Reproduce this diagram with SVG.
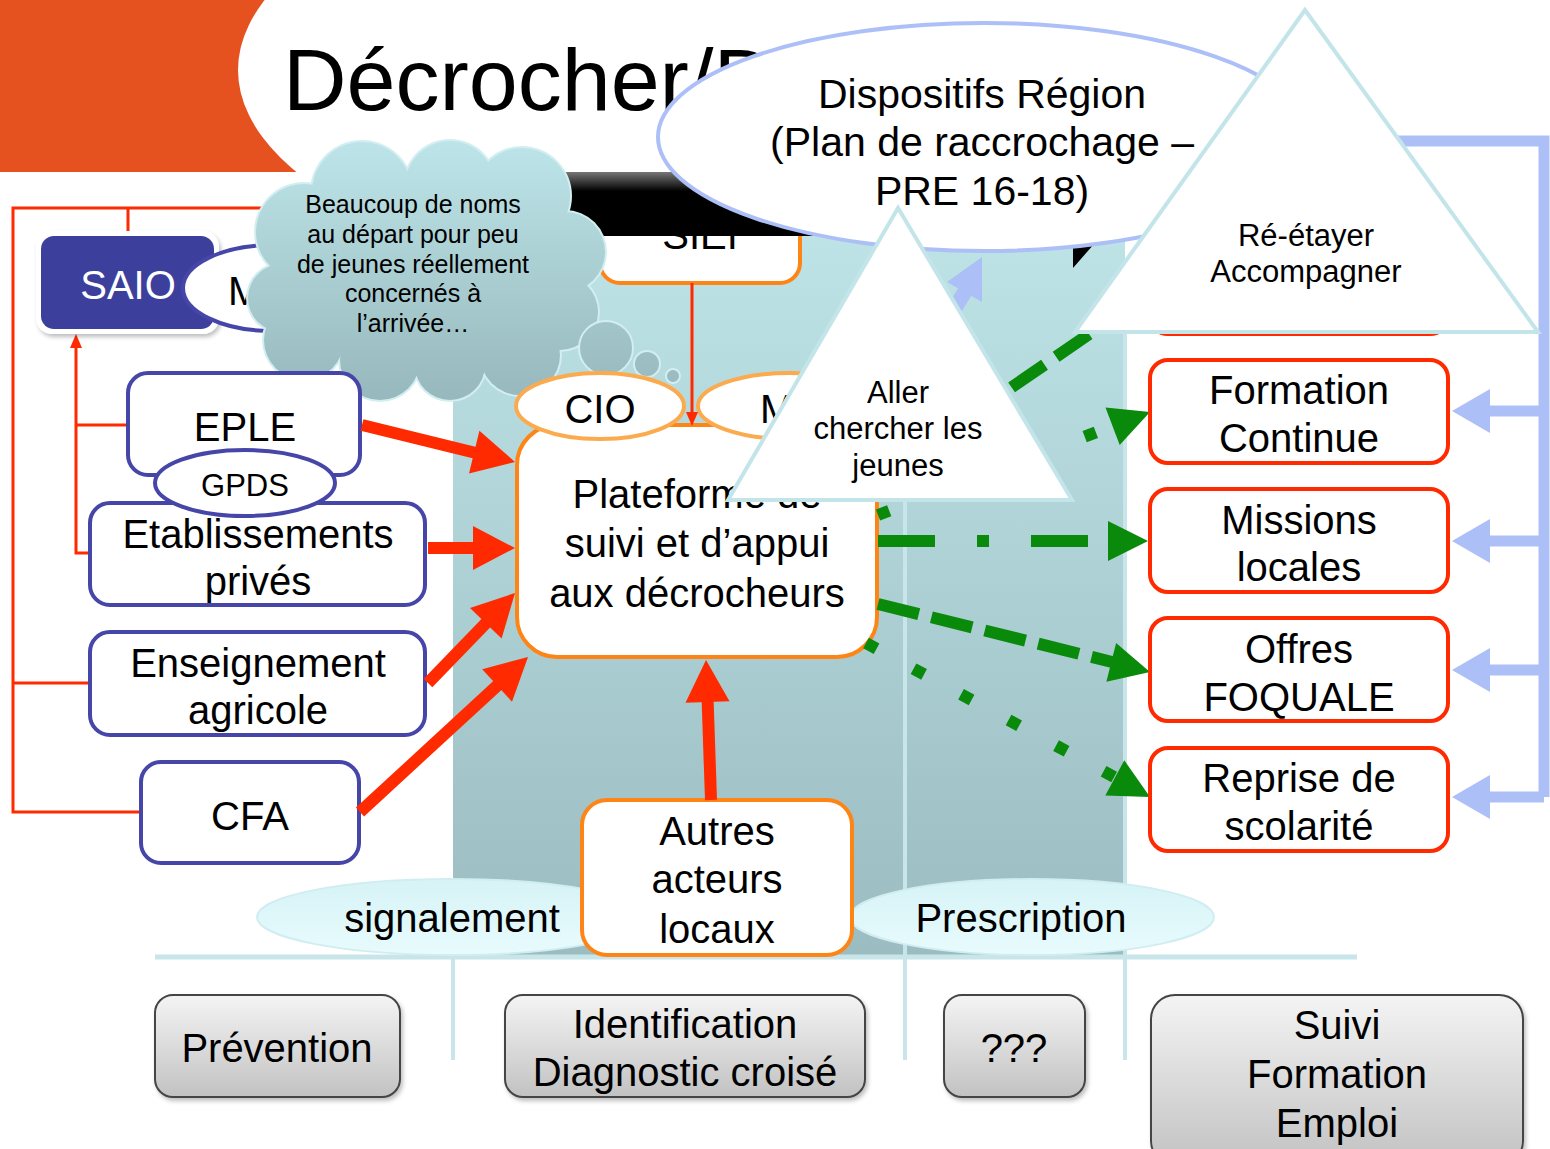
<svg xmlns="http://www.w3.org/2000/svg" width="1550" height="1149" viewBox="0 0 1550 1149">
<defs>
<style>
text{font-family:"Liberation Sans",Arial,sans-serif;fill:#000;text-anchor:middle}
.t40{font-size:40px}
.blue{fill:#fff;stroke:#4646a8;stroke-width:4}
.red{fill:#fff;stroke:#ff2a00;stroke-width:4}
.org{fill:#fff;stroke:#ff8416;stroke-width:4}
.grey{fill:url(#gGrey);stroke:#444;stroke-width:2}
.tri{fill:#fff;stroke:#c3e5ea;stroke-width:4}
.thin{fill:none;stroke:#ff2a00;stroke-width:3}
.rthick{fill:none;stroke:#ff2a00;stroke-width:12}
.rhead{fill:#ff2a00}
.grn{fill:none;stroke:#0a8a0a;stroke-width:12}
.ghead{fill:#0a8a0a}
.bl{fill:none;stroke:#adbff7;stroke-width:11}
.bhead{fill:#adbff7}
.sep{stroke:#c8e6ea;stroke-width:4;fill:none}
</style>
<linearGradient id="gPanel" x1="0" y1="200" x2="0" y2="957" gradientUnits="userSpaceOnUse">
<stop offset="0" stop-color="#bfe5e9"/><stop offset="1" stop-color="#9bbcc0"/></linearGradient>
<linearGradient id="gCloud" x1="0" y1="140" x2="0" y2="400" gradientUnits="userSpaceOnUse">
<stop offset="0" stop-color="#bde5e9"/><stop offset="1" stop-color="#97b8bc"/></linearGradient>
<linearGradient id="gGrey" x1="0" y1="0" x2="0" y2="1">
<stop offset="0" stop-color="#f4f4f4"/><stop offset="1" stop-color="#c2c2c2"/></linearGradient>
<linearGradient id="gBand" x1="0" y1="0" x2="0" y2="1">
<stop offset="0" stop-color="#777"/><stop offset="0.3" stop-color="#000"/><stop offset="1" stop-color="#000"/></linearGradient>
<linearGradient id="gEll" x1="0" y1="0" x2="0" y2="1">
<stop offset="0" stop-color="#d6f3f6"/><stop offset="1" stop-color="#e8fbfd"/></linearGradient>
<filter id="sh" x="-10%" y="-10%" width="130%" height="130%"><feDropShadow dx="2" dy="3" stdDeviation="2" flood-color="#000" flood-opacity="0.25"/></filter>
</defs>
<rect x="0" y="0" width="1550" height="1149" fill="#fff"/>

<g id="title">
<rect x="0" y="0" width="340" height="172" fill="#e5511f"/>
<ellipse cx="800" cy="70" rx="562" ry="230" fill="#fff"/>
<text x="283" y="110" style="font-size:88px;text-anchor:start">Décrocher/D</text>
</g>

<g id="panel">
<rect x="453" y="200" width="672" height="757" fill="url(#gPanel)"/>
<line class="sep" x1="905" y1="250" x2="905" y2="1060"/>
<line class="sep" x1="453" y1="957" x2="453" y2="1060"/>
<line class="sep" x1="1125" y1="330" x2="1125" y2="1060"/>
<line class="sep" x1="155" y1="957" x2="1357" y2="957" style="stroke-width:5"/>
</g>

<g id="connectors-left">
<path class="thin" d="M300,208 H13 V812 H141"/>
<path class="thin" d="M128,208 V235"/>
<path class="thin" d="M13,683 H90"/>
<path class="thin" d="M90,553 H76 V345"/>
<path class="thin" d="M76,425 H128"/>
<polygon class="rhead" points="76,334 70,348 82,348"/>
</g>

<g id="saio">
<rect x="36" y="231" width="183" height="103" rx="16" fill="#fff" filter="url(#sh)"/>
<rect x="41" y="236" width="173" height="93" rx="13" fill="#3d3f9d"/>
<text x="128" y="299" class="t40" style="fill:#fff">SAIO</text>
</g>
<g id="m1">
<ellipse cx="272" cy="288" rx="89" ry="43" class="blue"/>
<text x="228" y="305" class="t40" style="text-anchor:start">M</text>
</g>

<g id="siei">
<rect x="600" y="178" width="200" height="105" rx="20" class="org"/>
<text x="700" y="249" class="t40">SIEI</text>
</g>
<g id="band">
<rect x="560" y="172" width="540" height="64" fill="url(#gBand)"/>
<polygon points="1073,246 1094,244 1073,268" fill="#000"/>
</g>

<g id="cloud">
<g fill="#d2eef1">
<ellipse cx="425" cy="270" rx="152" ry="97"/>
<circle cx="304" cy="232" r="50"/><circle cx="282" cy="298" r="36"/><circle cx="304" cy="340" r="42"/>
<circle cx="362" cy="192" r="52"/><circle cx="450" cy="186" r="47"/><circle cx="522" cy="196" r="50"/>
<circle cx="565" cy="252" r="42"/><circle cx="560" cy="312" r="40"/><circle cx="520" cy="355" r="42"/>
<circle cx="450" cy="365" r="37"/><circle cx="380" cy="360" r="42"/>
</g>
<g fill="url(#gCloud)">
<ellipse cx="425" cy="270" rx="150" ry="95"/>
<circle cx="304" cy="232" r="48"/><circle cx="282" cy="298" r="34"/><circle cx="304" cy="340" r="40"/>
<circle cx="362" cy="192" r="50"/><circle cx="450" cy="186" r="45"/><circle cx="522" cy="196" r="48"/>
<circle cx="565" cy="252" r="40"/><circle cx="560" cy="312" r="38"/><circle cx="520" cy="355" r="40"/>
<circle cx="450" cy="365" r="35"/><circle cx="380" cy="360" r="40"/>
</g>
<circle cx="606" cy="348" r="27" fill="url(#gCloud)" stroke="#d2eef1" stroke-width="2"/>
<circle cx="647" cy="364" r="13" fill="url(#gCloud)" stroke="#d2eef1" stroke-width="2"/>
<circle cx="673" cy="376" r="7" fill="url(#gCloud)" stroke="#d2eef1" stroke-width="2"/>
<g style="font-size:25px">
<text x="413" y="213">Beaucoup de noms</text>
<text x="413" y="243">au départ pour peu</text>
<text x="413" y="273">de jeunes réellement</text>
<text x="413" y="302">concernés à</text>
<text x="413" y="332">l’arrivée…</text>
</g>
</g>

<g id="eple">
<rect x="128" y="373" width="232" height="102" rx="20" class="blue"/>
<text x="245" y="441" class="t40">EPLE</text>
</g>
<g id="etab">
<rect x="90" y="503" width="335" height="102" rx="20" class="blue"/>
<text x="258" y="548" class="t40">Etablissements</text>
<text x="258" y="595" class="t40">privés</text>
</g>
<g id="gpds">
<ellipse cx="245" cy="483" rx="90" ry="33" class="blue"/>
<text x="245" y="496" style="font-size:31px">GPDS</text>
</g>
<g id="agri">
<rect x="90" y="632" width="335" height="103" rx="20" class="blue"/>
<text x="258" y="677" class="t40">Enseignement</text>
<text x="258" y="724" class="t40">agricole</text>
</g>
<g id="cfa">
<rect x="141" y="762" width="218" height="101" rx="20" class="blue"/>
<text x="250" y="830" class="t40">CFA</text>
</g>

<g id="plateforme">
<rect x="517" y="425" width="360" height="232" rx="40" class="org"/>
<text x="697" y="508" class="t40">Plateforme de</text>
<text x="697" y="557" class="t40">suivi et d’appui</text>
<text x="697" y="607" class="t40">aux décrocheurs</text>
</g>
<g id="cio">
<ellipse cx="600" cy="406" rx="84" ry="33" fill="#fff" stroke="#fbab4d" stroke-width="4"/>
<text x="600" y="423" class="t40">CIO</text>
</g>
<g id="m2">
<ellipse cx="790" cy="406" rx="92" ry="33" fill="#fff" stroke="#fbab4d" stroke-width="4"/>
<text x="760" y="423" class="t40" style="text-anchor:start">M</text>
</g>

<g id="signalement">
<ellipse cx="452" cy="917" rx="195" ry="38" fill="url(#gEll)" stroke="#d0edf1" stroke-width="2"/>
<text x="452" y="932" class="t40">signalement</text>
</g>
<g id="prescription">
<ellipse cx="1032" cy="917" rx="182" ry="38" fill="url(#gEll)" stroke="#d0edf1" stroke-width="2"/>
<text x="1021" y="932" class="t40">Prescription</text>
</g>
<g id="autres">
<rect x="582" y="800" width="270" height="155" rx="25" class="org"/>
<text x="717" y="845" class="t40">Autres</text>
<text x="717" y="893" class="t40">acteurs</text>
<text x="717" y="943" class="t40">locaux</text>
</g>

<g id="connectors">
<path class="thin" d="M692,283 V414"/>
<polygon class="rhead" points="692,426 686,412 698,412"/>
<line class="rthick" x1="362" y1="425" x2="476" y2="453"/>
<polygon class="rhead" points="515,462 469,473.5 479.4,430.7"/>
<line class="rthick" x1="428" y1="548" x2="475" y2="548"/>
<polygon class="rhead" points="515,548 473,526 473,570"/>
<line class="rthick" x1="428" y1="683" x2="487" y2="622"/>
<polygon class="rhead" points="515,593 501.6,638.5 470,607.9"/>
<line class="rthick" x1="360" y1="812" x2="499" y2="684"/>
<polygon class="rhead" points="528,657 512,701.7 482.2,669.3"/>
<line class="rthick" x1="711" y1="800" x2="707.6" y2="700"/>
<polygon class="rhead" points="706,660 729.5,701.2 685.5,702.8"/>

<line class="grn" x1="878" y1="479" x2="1117" y2="315" stroke-dasharray="40 14"/>
<polygon class="ghead" points="1148,294 1128,331 1106,298"/>
<line class="grn" x1="878" y1="515" x2="1113" y2="426" stroke-dasharray="12 209 12 100"/>
<polygon class="ghead" points="1150,412 1119.7,444.9 1105.5,407.5"/>
<line class="grn" x1="878" y1="541" x2="1110" y2="541" stroke-dasharray="57 42 12 42"/>
<polygon class="ghead" points="1148,541 1108,521 1108,561"/>
<line class="grn" x1="878" y1="604" x2="1112" y2="662" stroke-dasharray="42 13"/>
<polygon class="ghead" points="1150,672 1106.4,681.7 1116.1,642.9"/>
<line class="grn" x1="866" y1="643" x2="1116" y2="778" stroke-dasharray="12 42"/>
<polygon class="ghead" points="1150,797 1105.3,795.5 1124.3,760.3"/>

<line class="bl" x1="940" y1="332" x2="966" y2="290" style="stroke-width:15"/>
<polygon class="bhead" points="982,257 947,282 982,302"/>
</g>

<g id="dispositifs">
<ellipse cx="984" cy="137" rx="326" ry="114" fill="#fff" stroke="#adbff7" stroke-width="4"/>
<text x="982" y="108" style="font-size:41px">Dispositifs Région</text>
<text x="982" y="156" style="font-size:41px">(Plan de raccrochage –</text>
<text x="982" y="205" style="font-size:41px">PRE 16-18)</text>
</g>

<g id="aller">
<polygon class="tri" points="898,208 728,500 1072,500"/>
<text x="898" y="403" style="font-size:31px">Aller</text>
<text x="898" y="439" style="font-size:31px">chercher les</text>
<text x="898" y="476" style="font-size:31px">jeunes</text>
</g>

<g id="hidden-box"><rect x="1150" y="230" width="298" height="104" rx="18" class="red"/></g>
<g id="formation">
<rect x="1150" y="360" width="298" height="103" rx="18" class="red"/>
<text x="1299" y="404" class="t40">Formation</text>
<text x="1299" y="452" class="t40">Continue</text>
</g>
<g id="missions">
<rect x="1150" y="489" width="298" height="103" rx="18" class="red"/>
<text x="1299" y="534" class="t40">Missions</text>
<text x="1299" y="581" class="t40">locales</text>
</g>
<g id="offres">
<rect x="1150" y="618" width="298" height="103" rx="18" class="red"/>
<text x="1299" y="663" class="t40">Offres</text>
<text x="1299" y="711" class="t40">FOQUALE</text>
</g>
<g id="reprise">
<rect x="1150" y="748" width="298" height="103" rx="18" class="red"/>
<text x="1299" y="792" class="t40">Reprise de</text>
<text x="1299" y="840" class="t40">scolarité</text>
</g>

<g id="connectors-right">
<path class="bl" d="M1300,141 H1544 V797"/>
<path class="bl" d="M1544,411 H1486 M1544,541 H1486 M1544,670 H1486 M1544,797 H1486"/>
<polygon class="bhead" points="1452,411 1490,389 1490,433"/>
<polygon class="bhead" points="1452,541 1490,519 1490,563"/>
<polygon class="bhead" points="1452,670 1490,648 1490,692"/>
<polygon class="bhead" points="1452,797 1490,775 1490,819"/>
</g>

<g id="reetayer">
<polygon class="tri" points="1305,10 1075,332 1538,332"/>
<text x="1306" y="246" style="font-size:31px">Ré-étayer</text>
<text x="1306" y="282" style="font-size:31px">Accompagner</text>
</g>

<g id="prevention">
<rect x="155" y="995" width="245" height="102" rx="18" class="grey" filter="url(#sh)"/>
<text x="277" y="1062" class="t40">Prévention</text>
</g>
<g id="identification">
<rect x="505" y="995" width="360" height="102" rx="18" class="grey" filter="url(#sh)"/>
<text x="685" y="1038" class="t40">Identification</text>
<text x="685" y="1086" class="t40">Diagnostic croisé</text>
</g>
<g id="qqq">
<rect x="944" y="995" width="141" height="102" rx="18" class="grey" filter="url(#sh)"/>
<text x="1014" y="1062" class="t40">???</text>
</g>
<g id="suivi">
<rect x="1151" y="995" width="372" height="170" rx="24" class="grey" filter="url(#sh)"/>
<text x="1337" y="1039" class="t40">Suivi</text>
<text x="1337" y="1088" class="t40">Formation</text>
<text x="1337" y="1137" class="t40">Emploi</text>
</g>
</svg>
